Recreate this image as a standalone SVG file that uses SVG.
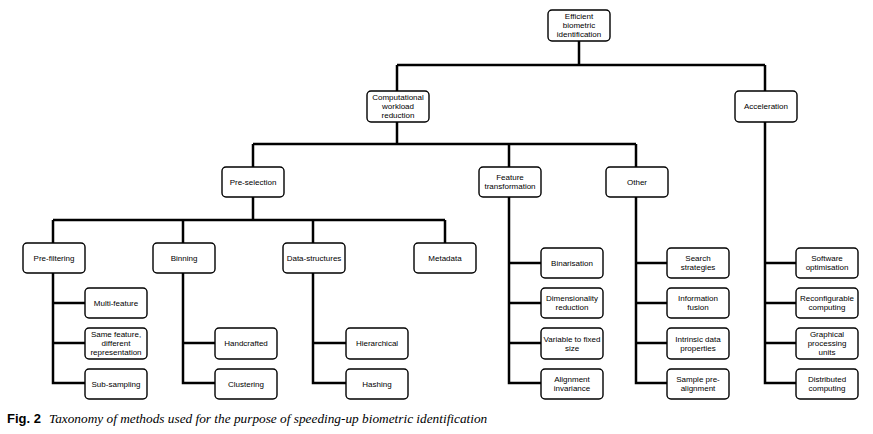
<svg xmlns="http://www.w3.org/2000/svg" width="873" height="434" viewBox="0 0 873 434">
<style>
.b rect{fill:#fff;stroke:#000;stroke-width:1.4}
.b text{font-family:"Liberation Sans",Arial,sans-serif;font-size:8px;text-anchor:middle;fill:#000}
#connectors path{fill:none;stroke:#000;stroke-width:2.5;stroke-linejoin:miter}
</style>
<rect width="873" height="434" fill="#fff"/>
<g id="connectors">
<path d="M579 41V65M397 65H765M397 65V91M765 65V91"/>
<path d="M397 122V144M253 144H636M253 144V167M509 144V167M636 144V167"/>
<path d="M253 197V220M53 220H445M53 220V243M183 220V243M313 220V243M445 220V243"/>
<path d="M53 273V383H85M53 303H85M53 343H85"/>
<path d="M183 273V383H215M183 343H215"/>
<path d="M313 273V383H346M313 343H346"/>
<path d="M509 197V383H541M509 263H541M509 303H541M509 343H541"/>
<path d="M636 197V383H667M636 263H667M636 303H667M636 343H667"/>
<path d="M765 122V383H796M765 263H796M765 303H796M765 343H796"/>
</g>
<g id="root" class="b"><rect x="548" y="10" width="62" height="31" rx="4"/><text x="579" y="19.4">Efficient</text><text x="579" y="28.4">biometric</text><text x="579" y="37.4">identification</text></g>
<g id="comp" class="b"><rect x="367" y="91" width="62" height="31" rx="4"/><text x="398" y="100.4">Computational</text><text x="398" y="109.4">workload</text><text x="398" y="118.4">reduction</text></g>
<g id="accel" class="b"><rect x="735" y="91" width="62" height="31" rx="4"/><text x="766" y="109.4">Acceleration</text></g>
<g id="presel" class="b"><rect x="222" y="167" width="62" height="30" rx="4"/><text x="253" y="184.9">Pre-selection</text></g>
<g id="feat" class="b"><rect x="479" y="167" width="62" height="30" rx="4"/><text x="510" y="180.4">Feature</text><text x="510" y="189.4">transformation</text></g>
<g id="other" class="b"><rect x="606" y="167" width="62" height="30" rx="4"/><text x="637" y="184.9">Other</text></g>
<g id="prefilt" class="b"><rect x="23" y="243" width="62" height="30" rx="4"/><text x="54" y="260.9">Pre-filtering</text></g>
<g id="binning" class="b"><rect x="153" y="243" width="62" height="30" rx="4"/><text x="184" y="260.9">Binning</text></g>
<g id="datastr" class="b"><rect x="283" y="243" width="62" height="30" rx="4"/><text x="314" y="260.9">Data-structures</text></g>
<g id="metadata" class="b"><rect x="414" y="243" width="62" height="30" rx="4"/><text x="445" y="260.9">Metadata</text></g>
<g id="multi" class="b"><rect x="85" y="288" width="62" height="30" rx="4"/><text x="116" y="305.9">Multi-feature</text></g>
<g id="same" class="b"><rect x="85" y="328" width="62" height="31" rx="4"/><text x="116" y="337.4">Same feature,</text><text x="116" y="346.4">different</text><text x="116" y="355.4">representation</text></g>
<g id="sub" class="b"><rect x="85" y="369" width="62" height="30" rx="4"/><text x="116" y="386.9">Sub-sampling</text></g>
<g id="handcrafted" class="b"><rect x="215" y="328" width="62" height="31" rx="4"/><text x="246" y="346.4">Handcrafted</text></g>
<g id="clustering" class="b"><rect x="215" y="369" width="62" height="30" rx="4"/><text x="246" y="386.9">Clustering</text></g>
<g id="hierarchical" class="b"><rect x="346" y="328" width="62" height="31" rx="4"/><text x="377" y="346.4">Hierarchical</text></g>
<g id="hashing" class="b"><rect x="346" y="369" width="62" height="30" rx="4"/><text x="377" y="386.9">Hashing</text></g>
<g id="binarisation" class="b"><rect x="541" y="248" width="62" height="30" rx="4"/><text x="572" y="265.9">Binarisation</text></g>
<g id="dimred" class="b"><rect x="541" y="288" width="62" height="30" rx="4"/><text x="572" y="301.4">Dimensionality</text><text x="572" y="310.4">reduction</text></g>
<g id="variable" class="b"><rect x="541" y="328" width="62" height="31" rx="4"/><text x="572" y="341.9">Variable to fixed</text><text x="572" y="350.9">size</text></g>
<g id="alignment" class="b"><rect x="541" y="369" width="62" height="30" rx="4"/><text x="572" y="382.4">Alignment</text><text x="572" y="391.4">invariance</text></g>
<g id="search" class="b"><rect x="667" y="248" width="62" height="30" rx="4"/><text x="698" y="261.4">Search</text><text x="698" y="270.4">strategies</text></g>
<g id="info" class="b"><rect x="667" y="288" width="62" height="30" rx="4"/><text x="698" y="301.4">Information</text><text x="698" y="310.4">fusion</text></g>
<g id="intrinsic" class="b"><rect x="667" y="328" width="62" height="31" rx="4"/><text x="698" y="341.9">Intrinsic data</text><text x="698" y="350.9">properties</text></g>
<g id="sample" class="b"><rect x="667" y="369" width="62" height="30" rx="4"/><text x="698" y="382.4">Sample pre-</text><text x="698" y="391.4">alignment</text></g>
<g id="software" class="b"><rect x="796" y="248" width="62" height="30" rx="4"/><text x="827" y="261.4">Software</text><text x="827" y="270.4">optimisation</text></g>
<g id="reconf" class="b"><rect x="796" y="288" width="62" height="30" rx="4"/><text x="827" y="301.4">Reconfigurable</text><text x="827" y="310.4">computing</text></g>
<g id="gpu" class="b"><rect x="796" y="328" width="62" height="31" rx="4"/><text x="827" y="337.4">Graphical</text><text x="827" y="346.4">processing</text><text x="827" y="355.4">units</text></g>
<g id="distrib" class="b"><rect x="796" y="369" width="62" height="30" rx="4"/><text x="827" y="382.4">Distributed</text><text x="827" y="391.4">computing</text></g>
<g id="caption">
<text x="7" y="423" font-family="Liberation Sans,Arial,sans-serif" font-size="13" font-weight="bold">Fig. 2</text>
<text x="49" y="423" font-family="Liberation Serif,Times New Roman,serif" font-size="13.3" font-style="italic">Taxonomy of methods used for the purpose of speeding-up biometric identification</text>
</g>
</svg>
